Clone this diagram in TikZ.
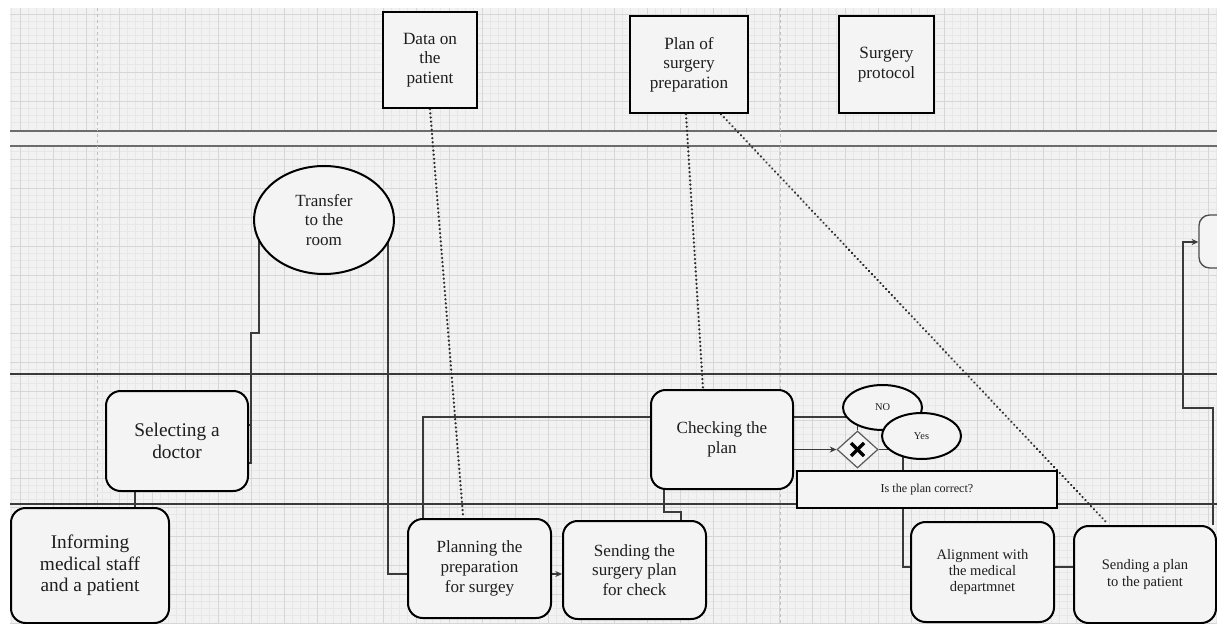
\documentclass[tikz,border=0pt]{standalone}
\usepackage{fontspec}
\setmainfont{Liberation Serif}
\usetikzlibrary{shapes.geometric,arrows.meta}
\pgfdeclarelayer{grid}
\pgfdeclarelayer{edges}
\pgfsetlayers{grid,edges,main}

\definecolor{paper}{HTML}{F2F2F2}
\definecolor{boxfill}{HTML}{F4F4F4}
\definecolor{finegrid}{HTML}{E7E7E7}
\definecolor{midgrid}{HTML}{D6D6D6}
\definecolor{wire}{HTML}{3A3A3A}
\definecolor{ink}{HTML}{1E1E1E}

\tikzset{
  x=0.75pt, y=-0.75pt,
  proc/.style={draw=black, line width=1.5pt, rounded corners=11pt, fill=boxfill,
    align=center, text=ink, inner sep=2pt},
  bigtxt/.style={font=\fontsize{14.5}{16.2}\selectfont},
  midtxt/.style={font=\fontsize{12.8}{14.8}\selectfont},
  smalltxt/.style={font=\fontsize{10.9}{12.3}\selectfont},
  dataobj/.style={draw=black, line width=1.8pt, fill=boxfill, align=center,
    text=ink, font=\fontsize{12.9}{14.7}\selectfont},
  event/.style={ellipse, draw=black, line width=1.5pt, fill=boxfill, align=center,
    text=ink, inner sep=0pt},
  wirel/.style={draw=wire, line width=0.8pt},
  assoc/.style={draw=wire!80!black, line width=1.9pt, dash pattern=on 0.01pt off 3.1pt, line cap=round},
  lane/.style={draw=wire, line width=1pt},
  band/.style={draw=gray!85!black, line width=1.5pt},
  sepline/.style={draw=gray!50, line width=0.7pt, dash pattern=on 2.5pt off 2pt},
  tip/.style={-{Stealth[length=5pt,width=4.5pt]}},
}

\begin{document}
\begin{tikzpicture}
\useasboundingbox (0,0) rectangle (1217,624);

% canvas, grid and lanes
\begin{pgfonlayer}{grid}
  \fill[white] (0,0) rectangle (1217,624);
  \fill[paper] (10,8) rectangle (1217,624);
  \foreach \i in {0,...,146}
    \draw[finegrid, line width=0.4pt] ({11.75+8.25*\i},8) -- ++(0,616);
  \foreach \i in {0,...,84}
    \draw[finegrid, line width=0.4pt] (10,{14+7.25*\i}) -- (1217,{14+7.25*\i});
  \foreach \i in {0,...,36}
    \draw[midgrid, line width=0.6pt] ({20+33*\i},8) -- ++(0,616);
  \foreach \i in {0,...,21}
    \draw[midgrid, line width=0.6pt] (10,{14+29*\i}) -- (1217,{14+29*\i});
  \fill[paper] (10,131) rectangle (1217,146);
  \draw[band] (10,131) -- (1217,131);
  \draw[band] (10,146) -- (1217,146);
  \draw[sepline] (97,8) -- (97,624);
  \draw[sepline] (780,8) -- (780,624);
  \draw[lane] (10,374) -- (1217,374);
  \draw[lane] (10,504) -- (1217,504);
\end{pgfonlayer}

% data objects
\node[dataobj, minimum width=70.5pt, minimum height=72pt] (data) at (430,60) {Data on\\the\\patient};
\node[dataobj, minimum width=88.5pt, minimum height=72.75pt] (plan) at (689,64.5) {Plan of\\surgery\\preparation};
\node[dataobj, minimum width=71.25pt, minimum height=72.75pt] (protocol) at (886.5,64.5) {Surgery\\protocol};

% events
\node[event, midtxt, minimum width=105pt, minimum height=81pt] (transfer) at (324,220) {Transfer\\to the\\room};

% tasks
\node[proc, bigtxt, minimum width=106.5pt, minimum height=75pt] (select) at (177,441) {Selecting a\\doctor};
\node[proc, bigtxt, minimum width=118.5pt, minimum height=86.25pt] (inform) at (90,565.5) {Informing\\medical staff\\and a patient};
\node[proc, midtxt, minimum width=107.25pt, minimum height=74.25pt] (prep) at (479.5,568.5) {Planning the\\preparation\\for surgey};
\node[proc, midtxt, minimum width=107.25pt, minimum height=73.5pt] (sendchk) at (634.5,570) {Sending the\\surgery plan\\for check};
\node[proc, midtxt, minimum width=106.5pt, minimum height=74.25pt] (check) at (722,439.5) {Checking the\\plan};
\node[proc, smalltxt, minimum width=107.25pt, minimum height=75pt] (align) at (982.5,572) {Alignment with\\the medical\\departmnet};
\node[proc, smalltxt, minimum width=106.5pt, minimum height=72.75pt] (sendpat) at (1145,574.5) {Sending a plan\\to the patient};
\begin{scope}
  \clip (0,0) rectangle (1217,624);
  \node[draw=gray!60!black, line width=1pt, rounded corners=8pt, fill=boxfill,
        minimum width=45.75pt, minimum height=39.75pt] (next) at (1229.5,241.5) {};
\end{scope}

% decision
\node[event, font=\fontsize{7.8}{9}\selectfont, minimum width=59.25pt, minimum height=33.75pt] (no) at (882.5,407.5) {NO};
\node[event, font=\fontsize{7.8}{9}\selectfont, minimum width=59.25pt, minimum height=34.5pt] (yes) at (921.5,436) {Yes};
\node[diamond, draw=gray!70!black, line width=0.9pt, fill=boxfill, inner sep=0pt,
      minimum width=30.75pt, minimum height=27.75pt] (gw) at (857.5,449.5) {};
\draw[line width=2.6pt, black] ([shift={(-6.5,-6.5)}]gw.center) -- ([shift={(6.5,6.5)}]gw.center);
\draw[line width=2.6pt, black] ([shift={(-6.5,6.5)}]gw.center) -- ([shift={(6.5,-6.5)}]gw.center);
\node[draw=black, line width=1.5pt, fill=boxfill, text=ink, minimum width=195pt, minimum height=27.75pt,
      font=\fontsize{9.1}{11}\selectfont] (question) at (927,489.5) {Is the plan correct?};

% flows
\begin{pgfonlayer}{edges}
  \draw[wirel] (135,0 |- select.south) -- (135,0 |- inform.north);
  \draw[wirel] (select.east |- 0,463) -- (251,463) -- (251,333) -- (259,333) -- (259,0 |- transfer.center);
  \draw[wirel] (select.east |- 0,425) -- (251,425);
  \draw[wirel] (388,0 |- transfer.center) -- (388,574) -- (prep.west |- 0,574);
  \draw[wirel, tip] (prep.east |- 0,574) -- (sendchk.west |- 0,574);
  \draw[wirel] (no.center |- 0,417) -- (423,417) -- (423,0 |- prep.north);
  \draw[wirel] (664,0 |- check.south) -- (664,512) -- (681,512) -- (681,0 |- sendchk.north);
  \draw[wirel, tip] (check.east |- gw.west) -- (gw.west);
  \draw[wirel] (gw.north) -- (gw.north |- no.center);
  \draw[wirel] (gw.east) -- (yes.center |- gw.east);
  \draw[wirel] (903,0 |- yes.center) -- (903,567) -- (align.west |- 0,567);
  \draw[wirel] (align.east |- 0,567) -- (sendpat.west |- 0,567);
  \draw[wirel, tip] (1213,0 |- sendpat.north) -- (1213,408) -- (1183,408) -- (1183,242) -- (next.west |- 0,242);
  % associations
  \draw[assoc] (430,0 |- data.south) -- (463,515);
  \draw[assoc] (686,0 |- plan.south) -- (703,0 |- check.north);
  \draw[assoc] (721,0 |- plan.south) -- (1107,523);
\end{pgfonlayer}
\end{tikzpicture}
\end{document}
